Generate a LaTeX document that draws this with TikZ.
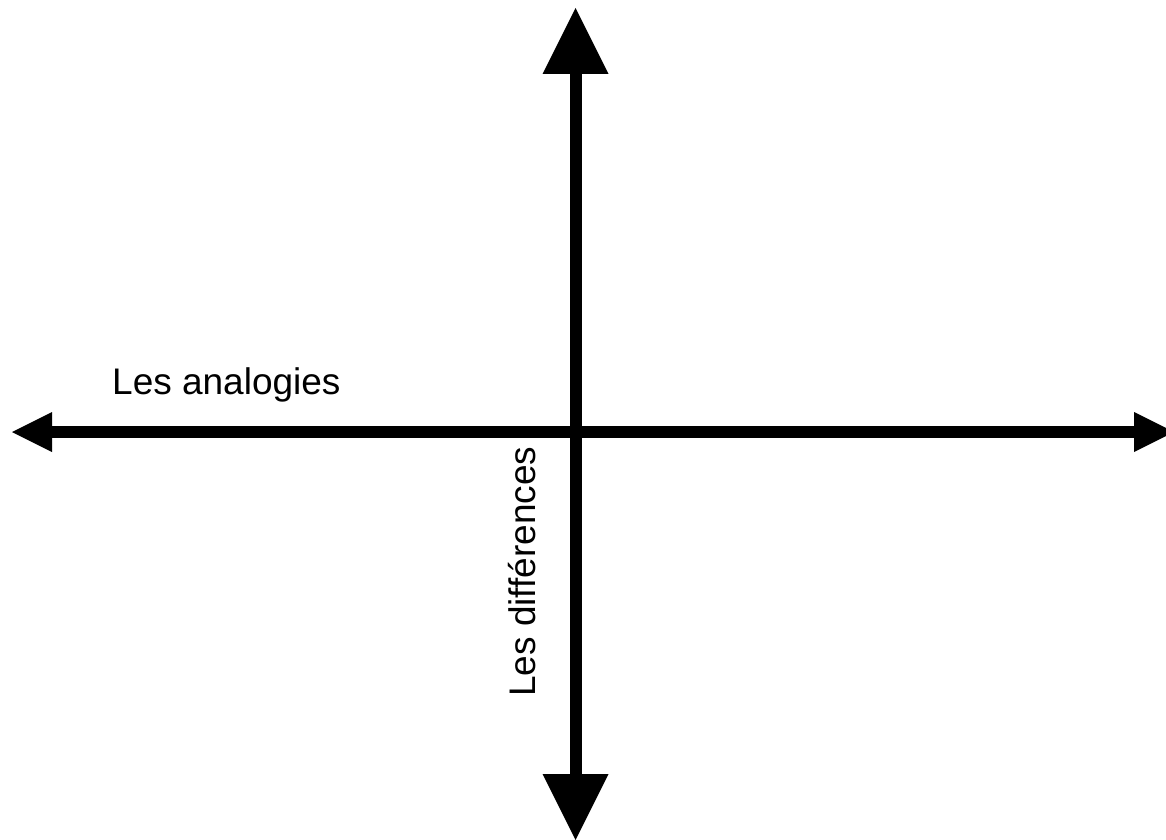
\documentclass[tikz,border=0pt]{standalone}
\usepackage{fontspec}
\setmainfont{Liberation Sans}
\usetikzlibrary{arrows.meta}
\tikzset{
  axis/.style={line width=12pt, draw=black},
  hhead/.style={-{Triangle[length=40pt,width=40pt,line width=0pt]}},
  lbl/.style={inner sep=0pt, font=\fontsize{37}{44}\selectfont}
}
\begin{document}
\begin{tikzpicture}[x=1pt,y=1pt]
\useasboundingbox (0,0) rectangle (1166,839);
\coordinate (L) at (12,407);
\coordinate (R) at (1174,407);
\coordinate (T) at (575.5,831);
\coordinate (B) at (575.5,-1);
\draw[axis, {Triangle[length=40pt,width=40pt,line width=0pt]}-{Triangle[length=40pt,width=40pt,line width=0pt]}] (L) -- (R);
\draw[axis, {Triangle[length=66pt,width=66pt,line width=0pt]}-{Triangle[length=66pt,width=66pt,line width=0pt]}] (B) -- (T);
\node[lbl, anchor=base west] (ana) at (112,445) {Les analogies};
\node[lbl, anchor=base west, rotate=90] (dif) at (535,142) {Les différences};
\end{tikzpicture}
\end{document}
